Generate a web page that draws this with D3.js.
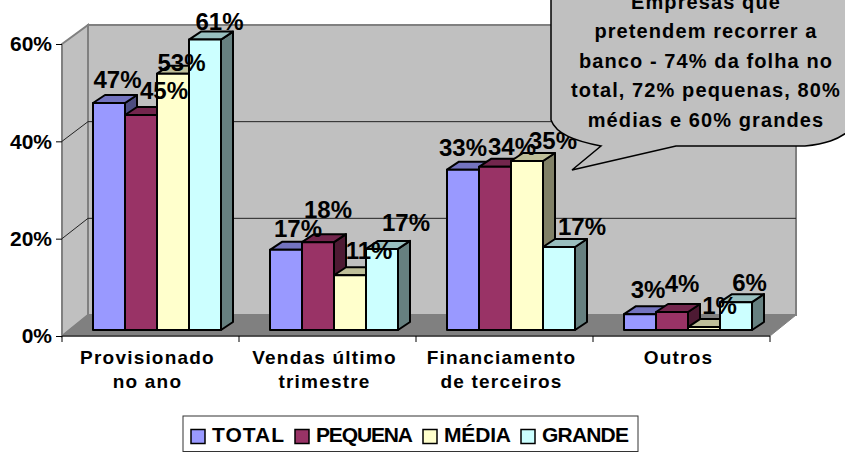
<!DOCTYPE html>
<html>
<head>
<meta charset="utf-8">
<script src="https://cdn.jsdelivr.net/npm/d3@7"></script>
<style>
body { margin: 0; background: #fff; }
svg { display: block; }
text { font-family: "Liberation Sans", Arial, sans-serif; font-weight: bold; fill: #000; }
</style>
</head>
<body>
<div id="chart"></div>
<script>
var categories = ['Provisionado no ano', 'Vendas último trimestre', 'Financiamento de terceiros', 'Outros'];
var categoryLines = [['Provisionado', 'no ano'], ['Vendas último', 'trimestre'], ['Financiamento', 'de terceiros'], ['Outros']];
var seriesNames = ['TOTAL', 'PEQUENA', 'MÉDIA', 'GRANDE'];
var total = [47.3, 16.7, 33.4, 3.3];
var pequena = [44.8, 18.3, 34, 3.75];
var media = [53.4, 11.4, 35.2, 0.6];
var grande = [60.5, 16.9, 17.3, 5.8];
var yTicks = [0, 20, 40, 60];
var calloutLines = ['Empresas que', 'pretendem recorrer a', 'banco - 74% da folha no', 'total, 72% pequenas, 80%', 'médias e 60% grandes'];

var seriesValues = [total, pequena, media, grande];
var colors = ['#9999ff', '#993366', '#ffffcc', '#ccffff'];

// data labels were hand placed in the original, so each one has its own nudge
var labelNudge = [
	[[8.5, -15], [23, -16], [8.5, -2.7], [14.5, -9.6]],
	[[12, -13], [10, -24], [19, -16], [24, -18]],
	[[0, -14], [17, -12], [26, -12], [23, -12]],
	[[8, -16], [10, -20], [15.5, -13], [13.5, -11]]
];
var legendWidths = [72, 97, 67, 87];

var svg = d3.select('#chart').append('svg').attr('width', 845).attr('height', 452);

var xScale = d3.scaleBand().domain(categories).range([62, 770]);
var yScale = d3.scaleLinear().domain([0, 60]).range([336, 44]);
var backScale = d3.scaleLinear().domain([0, 60]).range([315, 25]);
var barY = d3.scaleLinear().domain([0, 60]).range([330, 42]);
var barScale = d3.scaleBand().domain(seriesNames).range([31, 159]);

var wallDx = 26;
var barDx = 12, barDy = -8;

function pts(list) { return list.map(function(p) { return p.join(','); }).join(' '); }

// walls and floor
var yTop = yScale(60), yBase = yScale(0);
var backTop = backScale(60), backBase = backScale(0);
svg.append('polygon')
	.attr('points', pts([[62 + wallDx, backTop], [770 + wallDx, backTop], [770 + wallDx, backBase], [62 + wallDx, backBase]]))
	.attr('fill', '#c0c0c0').attr('stroke', '#808080').attr('stroke-width', 2);
svg.append('polygon')
	.attr('points', pts([[62, yTop], [62 + wallDx, backTop], [62 + wallDx, backBase], [62, yBase]]))
	.attr('fill', '#c0c0c0').attr('stroke', '#808080').attr('stroke-width', 2);
svg.append('polygon')
	.attr('points', pts([[62, yBase], [62 + wallDx, backBase], [770 + wallDx, backBase], [770, yBase]]))
	.attr('fill', '#808080').attr('stroke', '#808080');

// gridlines
yTicks.filter(function(d) { return d > 0 && d < 60; }).forEach(function(d) {
	svg.append('polyline')
		.attr('points', pts([[62, yScale(d)], [62 + wallDx, backScale(d)], [770 + wallDx, backScale(d)]]))
		.attr('fill', 'none').attr('stroke', '#222').attr('stroke-width', 1);
});

// bars
categories.forEach(function(cat, c) {
	seriesNames.forEach(function(name, s) {
		var v = seriesValues[s][c];
		var x0 = xScale(cat) + barScale(name);
		var x1 = x0 + barScale.bandwidth();
		var y0 = barY(v);
		var y1 = barY(0);
		var col = d3.color(colors[s]);
		var g = svg.append('g').attr('stroke', '#000').attr('stroke-width', 2).attr('stroke-linejoin', 'round');
		g.append('polygon')
			.attr('points', pts([[x1, y0], [x1 + barDx, y0 + barDy], [x1 + barDx, y1 + barDy], [x1, y1]]))
			.attr('fill', d3.rgb(col.r * 0.5, col.g * 0.5, col.b * 0.5));
		g.append('polygon')
			.attr('points', pts([[x0, y0], [x0 + barDx, y0 + barDy], [x1 + barDx, y0 + barDy], [x1, y0]]))
			.attr('fill', d3.rgb(col.r * 0.75, col.g * 0.75, col.b * 0.75));
		g.append('rect')
			.attr('x', x0).attr('y', y0)
			.attr('width', barScale.bandwidth()).attr('height', y1 - y0)
			.attr('fill', colors[s]);
	});
});

// axes
var yAxis = d3.axisLeft(yScale).tickValues(yTicks).tickSize(6).tickPadding(4).tickFormat(function(d) { return d + '%'; });
var yG = svg.append('g').attr('transform', 'translate(62,0)').call(yAxis);
yG.select('.domain').remove();
yG.selectAll('text').attr('font-size', 21).attr('font-family', null);
yG.selectAll('line').attr('stroke', '#000');

svg.append('line').attr('x1', 62).attr('x2', 770).attr('y1', yBase).attr('y2', yBase).attr('stroke', '#333').attr('stroke-width', 1.5);
categories.concat(['end']).forEach(function(cat, i) {
	var x = i < categories.length ? xScale(cat) : xScale.range()[1];
	svg.append('line').attr('x1', x).attr('x2', x).attr('y1', yBase).attr('y2', yBase + 6).attr('stroke', '#000');
});

categories.forEach(function(cat, c) {
	var t = svg.append('text')
		.attr('text-anchor', 'middle')
		.attr('font-size', 19)
		.attr('letter-spacing', 1.2);
	categoryLines[c].forEach(function(line, i) {
		t.append('tspan')
			.attr('x', xScale(cat) + xScale.bandwidth() / 2 - 3)
			.attr('y', 364 + i * 24)
			.text(line);
	});
});

// data labels
categories.forEach(function(cat, c) {
	seriesNames.forEach(function(name, s) {
		var n = labelNudge[c][s];
		svg.append('text')
			.attr('x', xScale(cat) + barScale(name) + barScale.bandwidth() / 2 + n[0])
			.attr('y', barY(seriesValues[s][c]) + n[1])
			.attr('text-anchor', 'middle')
			.attr('font-size', 24)
			.text(Math.round(seriesValues[s][c]) + '%');
	});
});

// callout
var callout = d3.path();
callout.moveTo(551, -10);
callout.lineTo(551, 120);
callout.bezierCurveTo(556, 134, 575, 141, 601, 146);
callout.lineTo(572, 170);
callout.lineTo(676, 146);
callout.lineTo(805, 146);
callout.bezierCurveTo(825, 144, 838, 140, 850, 130);
callout.lineTo(850, -10);
callout.closePath();
svg.append('path').attr('d', callout.toString())
	.attr('fill', '#c0c0c0').attr('stroke', '#000').attr('stroke-width', 1.5);
calloutLines.forEach(function(line, i) {
	svg.append('text')
		.attr('x', 706).attr('y', 8.5 + i * 29.5)
		.attr('text-anchor', 'middle')
		.attr('font-size', 20)
		.attr('letter-spacing', 1.1)
		.text(line);
});

// legend
svg.append('rect').attr('x', 183).attr('y', 416).attr('width', 455).attr('height', 35.5)
	.attr('fill', '#fff').attr('stroke', '#333').attr('stroke-width', 1);
var legendX = d3.scaleOrdinal().domain(seriesNames).range([191, 295, 423, 521]);
seriesNames.forEach(function(name, s) {
	svg.append('rect').attr('x', legendX(name)).attr('y', 429.5).attr('width', 14).attr('height', 14)
		.attr('fill', colors[s]).attr('stroke', '#000').attr('stroke-width', 1.5);
	svg.append('text').attr('x', legendX(name) + 21).attr('y', 442)
		.attr('font-size', 21)
		.attr('textLength', legendWidths[s]).attr('lengthAdjust', 'spacing')
		.text(name);
});
</script>
</body>
</html>
